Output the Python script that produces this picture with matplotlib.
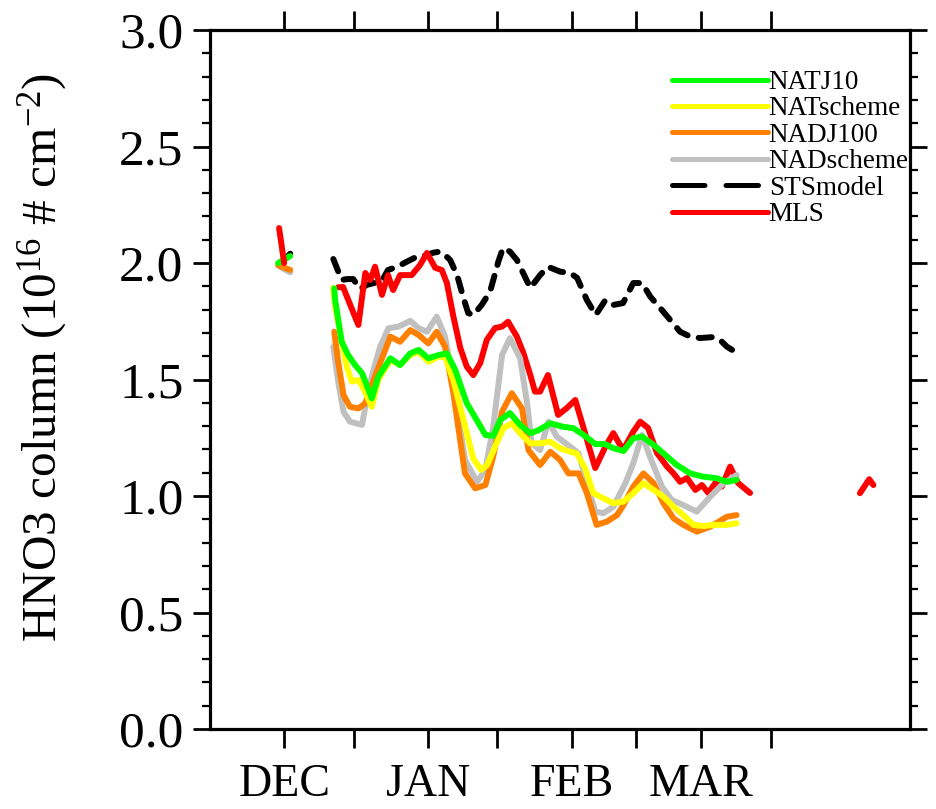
import matplotlib
matplotlib.use("Agg")
import matplotlib.pyplot as plt
from matplotlib.lines import Line2D
from matplotlib.ticker import MultipleLocator, FormatStrFormatter

plt.rcParams['font.family'] = ['Liberation Serif', 'DejaVu Serif']
plt.rcParams['mathtext.fontset'] = 'custom'
plt.rcParams['mathtext.rm'] = 'Liberation Serif'
plt.rcParams['mathtext.it'] = 'Liberation Serif:italic'

# x in days since 1 Dec
month_ticks = [0, 15, 31, 46, 62, 76, 90, 105]
month_labels = ["DEC", "", "JAN", "", "FEB", "", "MAR", ""]

# short early-December pieces
mls_dec_x = [-1.1, 0.0]
mls_dec_y = [2.15, 2.00]
natj_dec_x = [-1.3, 1.3]
natj_dec_y = [2.00, 2.03]
sts_dec_x = [0.4, 1.3]
sts_dec_y = [2.02, 2.04]
nadj_dec_x = [-1.3, 1.3]
nadj_dec_y = [1.99, 1.97]
nads_dec_x = [-0.6, 1.3]
nads_dec_y = [1.98, 1.96]

# STS model
sts_x = [10.6, 12.4, 13.5, 14.9, 16.4, 17.8, 19.6, 21.1, 22.4, 24.3, 26.5, 28.6,
         30.8, 32.1, 33.6, 34.7, 35.8, 37.3, 38.6, 39.7, 40.8, 42.6, 44.4, 46.2,
         47.2, 48.7, 50.2, 53.1, 55.2, 56.9, 59.5, 61.7, 63.2, 65.3, 67.2, 69.3,
         71.0, 73.1, 75.3, 77.2, 79.0, 81.1, 83.3, 85.4, 87.6, 89.7, 92.5, 94.0,
         95.5, 97.6]
sts_y = [2.017, 1.927, 1.931, 1.931, 1.888, 1.906, 1.915, 1.924, 1.970, 1.983, 2.006, 2.027,
         2.034, 2.044, 2.049, 2.034, 2.013, 1.948, 1.855, 1.785, 1.777, 1.820, 1.876, 2.006,
         2.064, 2.049, 2.013, 1.893, 1.948, 1.984, 1.963, 1.957, 1.936, 1.841, 1.777, 1.841,
         1.820, 1.828, 1.914, 1.914, 1.855, 1.807, 1.755, 1.705, 1.684, 1.678, 1.682, 1.670,
         1.641, 1.615]

# MLS observations
mls_x = [11.7, 12.7, 16.0, 17.5, 18.6, 19.6, 21.1, 22.4, 23.5, 25.0, 27.5, 29.3,
         30.8, 32.6, 34.0, 35.1, 36.5, 38.0, 39.4, 40.8, 42.3, 43.7, 45.5, 47.0,
         48.3, 50.2, 51.6, 53.1, 54.1, 55.2, 56.9, 59.1, 61.0, 62.8, 64.5, 67.1,
         69.3, 71.0, 73.1, 75.3, 76.8, 78.5, 80.4, 82.6, 83.9, 85.4, 86.9, 88.7,
         90.1, 91.5, 93.0, 94.4, 96.2, 97.9, 100.5]
mls_y = [1.896, 1.897, 1.734, 1.957, 1.927, 1.984, 1.863, 1.948, 1.884, 1.948, 1.948, 1.991,
         2.043, 1.979, 1.970, 1.914, 1.770, 1.635, 1.555, 1.519, 1.571, 1.670, 1.721, 1.727,
         1.748, 1.684, 1.614, 1.519, 1.448, 1.448, 1.519, 1.348, 1.378, 1.412, 1.297, 1.120,
         1.212, 1.270, 1.197, 1.276, 1.319, 1.292, 1.185, 1.126, 1.099, 1.061, 1.077, 1.026,
         1.047, 1.013, 1.056, 1.040, 1.126, 1.056, 1.013]
mls_mar_x = [124.2, 126.2, 127.1]
mls_mar_y = [1.012, 1.072, 1.047]

# NAT J10
natj_x = [10.8, 11.0, 12.4, 13.8, 15.3, 16.8, 18.9, 20.3, 22.9, 25.0, 27.2, 29.0,
          31.1, 33.3, 35.1, 36.9, 39.4, 42.3, 43.4, 45.1, 46.6, 48.7, 50.9, 53.1,
          54.9, 57.4, 60.2, 62.4, 64.6, 67.1, 69.2, 71.0, 73.2, 75.3, 77.2, 79.7,
          81.8, 84.7, 87.6, 90.4, 93.3, 95.5, 97.6]
natj_y = [1.891, 1.841, 1.662, 1.605, 1.562, 1.527, 1.419, 1.512, 1.591, 1.562, 1.612, 1.627,
          1.591, 1.605, 1.612, 1.541, 1.398, 1.300, 1.262, 1.258, 1.326, 1.356, 1.305, 1.269,
          1.283, 1.312, 1.297, 1.291, 1.262, 1.223, 1.223, 1.205, 1.193, 1.248, 1.255, 1.219,
          1.183, 1.133, 1.097, 1.083, 1.076, 1.061, 1.069]

# NAT scheme
nats_x = [10.6, 11.0, 12.1, 13.5, 14.6, 16.0, 17.1, 18.9, 20.3, 22.9, 25.0, 27.2,
          29.0, 31.1, 33.3, 34.7, 36.5, 39.4, 40.8, 42.5, 43.8, 45.5, 47.3, 49.1,
          50.9, 53.1, 55.2, 57.4, 59.5, 61.7, 63.1, 64.9, 66.7, 68.9, 71.0, 73.2,
          75.3, 77.5, 79.7, 81.8, 84.0, 86.1, 88.3, 90.4, 92.6, 95.5, 97.6]
nats_y = [1.893, 1.812, 1.700, 1.555, 1.491, 1.498, 1.462, 1.383, 1.498, 1.584, 1.562, 1.605,
          1.619, 1.576, 1.598, 1.598, 1.498, 1.269, 1.160, 1.112, 1.133, 1.212, 1.291, 1.312,
          1.269, 1.226, 1.226, 1.233, 1.205, 1.190, 1.183, 1.119, 1.012, 0.990, 0.969, 0.976,
          1.012, 1.055, 1.026, 0.997, 0.954, 0.918, 0.876, 0.871, 0.876, 0.876, 0.883]

# NAD J100
nadj_x = [10.8, 11.7, 12.8, 14.2, 16.0, 17.5, 19.3, 21.1, 22.9, 25.0, 27.2, 29.0,
          31.1, 32.9, 34.7, 36.5, 39.0, 41.2, 43.4, 45.1, 47.0, 49.1, 51.3, 52.7,
          55.2, 57.4, 59.5, 61.3, 63.5, 65.3, 67.4, 69.6, 71.8, 73.2, 75.3, 77.5,
          79.7, 81.8, 84.0, 86.1, 89.0, 91.9, 95.5, 97.6]
nadj_y = [1.705, 1.570, 1.433, 1.383, 1.376, 1.398, 1.498, 1.591, 1.684, 1.662, 1.712, 1.691,
          1.655, 1.705, 1.641, 1.441, 1.097, 1.033, 1.047, 1.169, 1.362, 1.441, 1.376, 1.197,
          1.133, 1.190, 1.155, 1.097, 1.097, 1.012, 0.876, 0.890, 0.918, 0.961, 1.040, 1.097,
          1.055, 0.969, 0.904, 0.876, 0.847, 0.868, 0.911, 0.918]

# NAD scheme
nads_x = [10.6, 11.7, 12.8, 14.2, 16.8, 17.5, 18.9, 20.7, 22.5, 24.7, 27.2, 29.0,
          30.8, 32.9, 34.7, 36.5, 39.0, 41.6, 43.4, 45.1, 47.0, 48.7, 50.9, 52.4,
          53.4, 55.2, 57.0, 58.8, 61.7, 63.5, 65.3, 67.1, 68.9, 71.0, 73.6, 75.3,
          77.2, 78.9, 81.5, 83.6, 86.1, 89.0, 91.9, 94.8, 97.6]
nads_y = [1.641, 1.484, 1.362, 1.319, 1.305, 1.383, 1.512, 1.641, 1.720, 1.727, 1.752, 1.720,
          1.705, 1.770, 1.684, 1.484, 1.155, 1.061, 1.112, 1.297, 1.605, 1.677, 1.591, 1.398,
          1.226, 1.197, 1.319, 1.255, 1.212, 1.183, 1.055, 0.933, 0.926, 0.954, 1.055, 1.140,
          1.262, 1.169, 1.040, 0.983, 0.961, 0.933, 0.997, 1.055, 1.090]

fig = plt.figure(figsize=(9.36, 8.09), dpi=100)
ax = fig.add_axes([210/936, 80/809, 700/936, 699/809])

lw = 4.3
kw = dict(lw=lw, solid_capstyle='round', solid_joinstyle='round')
c_natj, c_nats, c_nadj, c_nads = '#00ff00', '#ffff00', '#ff8000', '#c0c0c0'

ax.plot(sts_dec_x, sts_dec_y, color='black', **kw)
ax.plot(nads_dec_x, nads_dec_y, color=c_nads, **kw)
ax.plot(nadj_dec_x, nadj_dec_y, color=c_nadj, **kw)
ax.plot(natj_dec_x, natj_dec_y, color=c_natj, **kw)
ax.plot(mls_dec_x, mls_dec_y, color='red', **kw)
ax.plot(mls_mar_x, mls_mar_y, color='red', **kw)

ax.plot(sts_x, sts_y, color='black', lw=lw, dashes=(2.2, 1.9),
        dash_capstyle='round', dash_joinstyle='round')
ax.plot(mls_x, mls_y, color='red', **kw)
ax.plot(nads_x, nads_y, color=c_nads, **kw)
ax.plot(nadj_x, nadj_y, color=c_nadj, **kw)
ax.plot(nats_x, nats_y, color=c_nats, **kw)
ax.plot(natj_x, natj_y, color=c_natj, **kw)

# legend handles (NCL style long dash for STS)
handles = [Line2D([], [], color=c, lw=3.6, solid_capstyle='round')
           for c in (c_natj, c_nats, c_nadj, c_nads)]
handles.append(Line2D([], [], color='black', lw=3.6, dashes=(6.5, 4.2),
                      dash_capstyle='round'))
handles.append(Line2D([], [], color='red', lw=3.6, solid_capstyle='round'))
ax.legend(handles,
          ["NATJ10", "NATscheme", "NADJ100", "NADscheme", "STSmodel", "MLS"],
          loc='upper left', bbox_to_anchor=((672 - 210) / 700, (729 - 70) / 699),
          frameon=False, fontsize=19.5, handlelength=3.55, handletextpad=0.02,
          labelspacing=0.055, borderpad=0, borderaxespad=0)

ax.set_xlim(-16, 135)
ax.set_ylim(0, 3.0)
ax.set_xticks(month_ticks)
ax.set_xticklabels(month_labels)
ax.yaxis.set_major_locator(MultipleLocator(0.5))
ax.yaxis.set_minor_locator(MultipleLocator(0.1))
ax.yaxis.set_major_formatter(FormatStrFormatter('%.1f'))

for s in ax.spines.values():
    s.set_linewidth(2.3)
ax.tick_params(axis='x', which='major', direction='out', length=14, width=2.0,
               top=True, labelsize=33, pad=11)
ax.tick_params(axis='y', which='major', direction='out', length=12, width=2.0,
               right=True, labelsize=37, pad=7)
ax.tick_params(axis='y', which='minor', direction='out', length=6, width=1.6,
               right=True)

ax.set_ylabel("HNO3 column (10$^{16}$ # cm$^{-2}$)", fontsize=35.5)
ax.yaxis.set_label_coords((70 - 210) / 700, 0.532)

fig.savefig("out.png", dpi=100)
